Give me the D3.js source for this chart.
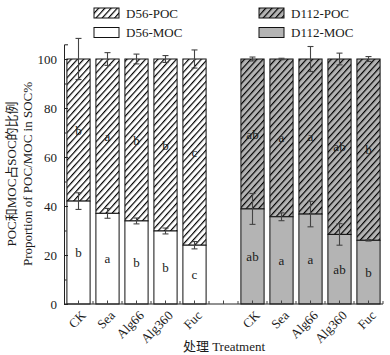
<!DOCTYPE html>
<html><head><meta charset="utf-8">
<script src="https://cdn.jsdelivr.net/npm/d3@7"></script>
<style>body{margin:0;background:#fff}svg{display:block}text{font-family:"Liberation Serif","Noto Sans CJK SC",serif;fill:#1a1a1a}</style>
</head><body>
<script>
const categories = ["CK","Sea","Alg66","Alg360","Fuc"];
const moc56 = [42, 37, 33.9, 29.8, 24];
const moc56Err = [3.4, 2, 1.2, 1.2, 1.5];
const poc56Err = [8.4, 2.6, 2, 1.4, 3.7];
const moc112 = [38.8, 35.6, 36.7, 28.4, 26];
const moc112Err = [6.3, 1.6, 5.2, 4.4, 0.3];
const poc112Err = [0.8, 0.3, 5.1, 2.4, 1];
const letters56Poc = ["b","a","b","b","c"];
const letters56Moc = ["b","a","b","b","c"];
const letters112Poc = ["ab","a","a","ab","b"];
const letters112Moc = ["ab","a","a","ab","b"];
const yTicks = [0,20,40,60,80,100];
const legend56 = ["D56-POC","D56-MOC"];
const legend112 = ["D112-POC","D112-MOC"];

const W=390,H=355;
const svg=d3.select("body").append("svg").attr("width",W).attr("height",H);
const defs=svg.append("defs");
function hatch(id,bg){
  const p=defs.append("pattern").attr("id",id).attr("patternUnits","userSpaceOnUse")
    .attr("width",4.6).attr("height",4.6).attr("patternTransform","rotate(42)");
  p.append("rect").attr("width",4.6).attr("height",4.6).attr("fill",bg);
  p.append("line").attr("x1",0.6).attr("y1",0).attr("x2",0.6).attr("y2",4.6).attr("stroke","#000").attr("stroke-width",1.2);
}
hatch("h56","#fff");hatch("h112","#b4b4b4");
const grey="#b4b4b4";

const slots=[...categories.map(c=>c+"-56"),"gap",...categories.map(c=>c+"-112")];
const x=d3.scaleBand().domain(slots).range([64,383]).paddingInner(0.2).paddingOuter(0.1);
const y=d3.scaleLinear().domain([0,106]).range([304,44.3]);

const groups=[
  {key:"-56",moc:moc56,mocErr:moc56Err,pocErr:poc56Err,lp:letters56Poc,lm:letters56Moc,pf:"url(#h56)",mf:"#fff"},
  {key:"-112",moc:moc112,mocErr:moc112Err,pocErr:poc112Err,lp:letters112Poc,lm:letters112Moc,pf:"url(#h112)",mf:grey}
];
const bw=x.bandwidth();
groups.forEach(g=>{
  categories.forEach((c,i)=>{
    const x0=x(c+g.key);
    svg.append("rect").attr("x",x0).attr("y",y(100)).attr("width",bw).attr("height",y(g.moc[i])-y(100))
      .attr("fill",g.pf).attr("stroke","#111").attr("stroke-width",1);
    svg.append("rect").attr("x",x0).attr("y",y(g.moc[i])).attr("width",bw).attr("height",y(0)-y(g.moc[i]))
      .attr("fill",g.mf).attr("stroke","#111").attr("stroke-width",1);
  });
});
// error bars and letters
groups.forEach(g=>{
  categories.forEach((c,i)=>{
    const cx=x(c+g.key)+bw/2;
    [[100,g.pocErr[i]],[g.moc[i],g.mocErr[i]]].forEach(([v,e])=>{
      const eg=svg.append("g").attr("stroke","#444").attr("stroke-width",1.1);
      eg.append("line").attr("x1",cx).attr("x2",cx).attr("y1",y(v-e)).attr("y2",y(v+e));
      eg.append("line").attr("x1",cx-3).attr("x2",cx+3).attr("y1",y(v-e)).attr("y2",y(v-e));
      eg.append("line").attr("x1",cx-3).attr("x2",cx+3).attr("y1",y(v+e)).attr("y2",y(v+e));
    });
    svg.append("text").attr("x",cx).attr("y",y((100+g.moc[i])/2)).attr("dy","0.35em")
      .attr("text-anchor","middle").attr("font-size",13).text(g.lp[i]);
    svg.append("text").attr("x",cx).attr("y",y(g.moc[i]/2)).attr("dy","0.35em")
      .attr("text-anchor","middle").attr("font-size",13).text(g.lm[i]);
  });
});

// y axis
const ya=svg.append("g").attr("transform","translate(64,0)")
  .call(d3.axisLeft(y).tickValues(yTicks).tickSize(-4).tickPadding(7));
ya.select(".domain").attr("stroke","#222");
ya.selectAll(".tick line").attr("stroke","#222");
ya.selectAll("text").attr("font-size",13).attr("font-family","Liberation Serif").attr("fill","#1a1a1a");
svg.append("g").attr("transform","translate(64,0)")
  .call(d3.axisLeft(y).tickValues([10,30,50,70,90]).tickSize(-2.5).tickFormat(""))
  .call(s=>s.select(".domain").remove()).selectAll("line").attr("stroke","#222");

// x axis
const xa=svg.append("g").attr("transform","translate(0,304)");
xa.append("line").attr("x1",64).attr("x2",383).attr("stroke","#222");
slots.forEach((s,i)=>{
  const cx=x(s)+bw/2;
  xa.append("line").attr("x1",cx).attr("x2",cx).attr("y1",0).attr("y2",-3.5).attr("stroke","#444");
  const bx=64+x.step()*(i+1);
  xa.append("line").attr("x1",bx).attr("x2",bx).attr("y1",0).attr("y2",-3).attr("stroke","#444");
  if(s!=="gap"){
    xa.append("text").attr("transform",`translate(${cx+5},${9}) rotate(-45)`)
      .attr("text-anchor","end").attr("dy","0.35em").attr("font-size",13).text(s.split("-")[0]);
  }
});

// titles
svg.append("text").attr("x",224).attr("y",351).attr("text-anchor","middle").attr("font-size",13).text("处理 Treatment");
svg.append("text").attr("transform","translate(16,174) rotate(-90)").attr("text-anchor","middle").attr("font-size",13).text("POC和MOC占SOC的比例");
svg.append("text").attr("transform","translate(32,174) rotate(-90)").attr("text-anchor","middle").attr("font-size",13).text("Proportion of POC/MOC in SOC%");

// legends
function legend(x0,labels,fills){
  labels.forEach((l,i)=>{
    svg.append("rect").attr("x",x0).attr("y",8+i*19.5).attr("width",25).attr("height",10)
      .attr("fill",fills[i]).attr("stroke","#111").attr("stroke-width",1);
    svg.append("text").attr("x",x0+32).attr("y",13+i*19.5).attr("dy","0.35em").attr("font-size",13).text(l);
  });
}
legend(94,legend56,["url(#h56)","#fff"]);
legend(259,legend112,["url(#h112)",grey]);
</script>
</body></html>
